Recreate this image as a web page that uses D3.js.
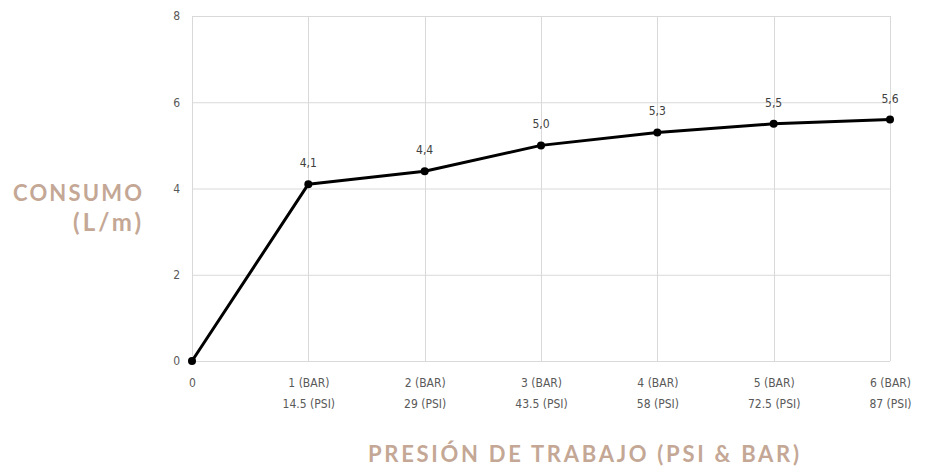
<!DOCTYPE html>
<html><head><meta charset="utf-8">
<script src="https://cdn.jsdelivr.net/npm/d3@7/dist/d3.min.js"></script>
<style>body{margin:0;background:#fff;}svg{display:block;}</style>
</head><body>
<svg id="c" width="928" height="470"></svg>
<script>
const categories = ["0","1 (BAR)|14.5 (PSI)","2 (BAR)|29 (PSI)","3 (BAR)|43.5 (PSI)","4 (BAR)|58 (PSI)","5 (BAR)|72.5 (PSI)","6 (BAR)|87 (PSI)"];
const values = [0, 4.1, 4.4, 5.0, 5.3, 5.5, 5.6];
const valueLabels = ["", "4,1", "4,4", "5,0", "5,3", "5,5", "5,6"];
const yTicks = [0, 2, 4, 6, 8];
const yTitle = ["CONSUMO", "(L/m)"];
const xTitle = "PRESIÓN DE TRABAJO (PSI & BAR)";

const svg = d3.select("#c");
const L = 192, R = 890, T = 16, B = 361;
const x = d3.scalePoint().domain(categories).range([L, R]);
const y = d3.scaleLinear().domain([0, 8]).range([B, T]);
const tickFont = "'DejaVu Sans Condensed', 'Liberation Sans', sans-serif";
const tickColor = "#595959";

// horizontal grid
svg.append("g").selectAll("line").data(yTicks).join("line")
  .attr("x1", L).attr("x2", R).attr("y1", d => y(d) + 0.5).attr("y2", d => y(d) + 0.5)
  .attr("stroke", "#d9d9d9").attr("stroke-width", 1);
// vertical grid
svg.append("g").selectAll("line").data(categories).join("line")
  .attr("x1", d => Math.round(x(d)) + 0.5).attr("x2", d => Math.round(x(d)) + 0.5)
  .attr("y1", T).attr("y2", B)
  .attr("stroke", "#d9d9d9").attr("stroke-width", 1);

// y axis labels
const yAxis = d3.axisLeft(y).tickValues(yTicks).tickSize(0).tickPadding(12).tickFormat(d3.format("d"));
const gy = svg.append("g").attr("transform", `translate(${L},0)`).call(yAxis);
gy.select(".domain").remove();
gy.selectAll("text").attr("font-family", tickFont).attr("font-size", 12).attr("fill", tickColor);

// x axis labels
const xAxis = d3.axisBottom(x).tickSize(0).tickFormat("");
const gx = svg.append("g").attr("transform", `translate(0,${B})`).call(xAxis);
gx.select(".domain").remove();
gx.selectAll(".tick").each(function(d) {
  const parts = d.split("|");
  const t = d3.select(this).append("text")
    .attr("font-family", tickFont).attr("font-size", 12).attr("fill", tickColor)
    .attr("text-anchor", "middle");
  parts.forEach((p, i) => t.append("tspan").attr("x", 0).attr("y", 26 + i * 21).text(p));
});

// line
const pts = categories.map((c, i) => [x(c), y(values[i])]);
svg.append("path").datum(pts)
  .attr("d", d3.line())
  .attr("fill", "none").attr("stroke", "#000").attr("stroke-width", 3).attr("stroke-linejoin", "round");
svg.append("g").selectAll("circle").data(pts).join("circle")
  .attr("cx", d => d[0]).attr("cy", d => d[1]).attr("r", 4).attr("fill", "#000");

// data labels
svg.append("g").selectAll("text").data(categories.map((c, i) => i)).join("text")
  .attr("x", i => x(categories[i])).attr("y", i => y(values[i]) - 17)
  .attr("text-anchor", "middle")
  .attr("font-family", tickFont).attr("font-size", 12).attr("fill", "#404040")
  .text(i => valueLabels[i]);

// titles
const titleFont = "Lato, 'Open Sans', sans-serif";
const titleColor = "#c4a795";
function title(txt, xPos, yPos, len, size) {
  svg.append("text").attr("x", xPos).attr("y", yPos)
    .attr("font-family", titleFont).attr("font-size", size).attr("font-weight", 700)
    .attr("textLength", len).attr("lengthAdjust", "spacing")
    .attr("fill", titleColor).text(txt);
}
title(yTitle[0], 13, 201, 129, 22);
title(yTitle[1], 73, 231, 68, 24);
title(xTitle, 368, 462, 431, 22);
</script>
</body></html>
